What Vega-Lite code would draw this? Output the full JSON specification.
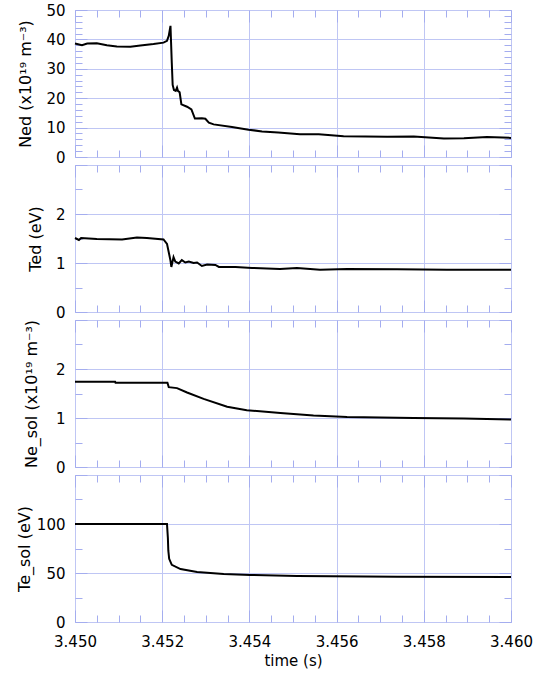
{
  "$schema": "https://vega.github.io/schema/vega-lite/v6.json",
  "background": "white",
  "padding": {"left": 15, "top": 2, "right": 5, "bottom": 5},
  "spacing": 8,
  "bounds": "flush",
  "config": {
    "view": {"stroke": "#a4adef", "strokeWidth": 1},
    "axis": {
      "labelFont": "DejaVu Sans", "labelFontSize": 15, "labelColor": "black",
      "titleFont": "DejaVu Sans", "titleFontSize": 16, "titleFontWeight": "normal", "titleColor": "black",
      "gridColor": "#bfc6f4", "gridWidth": 1, "tickColor": "#a4adef", "tickWidth": 1,
      "domain": false, "labelFlush": false, "labelOverlap": false
    }
  },
  "datasets": {
    "ned": [
      {"t": 3.4500, "v": 38.6}, {"t": 3.45016, "v": 38.0}, {"t": 3.45028, "v": 38.6}, {"t": 3.4505, "v": 38.7},
      {"t": 3.45073, "v": 38.0}, {"t": 3.45096, "v": 37.6}, {"t": 3.45127, "v": 37.5}, {"t": 3.4515, "v": 37.9},
      {"t": 3.4518, "v": 38.4}, {"t": 3.45203, "v": 38.9}, {"t": 3.45211, "v": 39.5}, {"t": 3.45215, "v": 41.2},
      {"t": 3.45219, "v": 44.6}, {"t": 3.45222, "v": 32.0}, {"t": 3.45224, "v": 24.5}, {"t": 3.45227, "v": 22.8},
      {"t": 3.45231, "v": 22.5}, {"t": 3.45234, "v": 23.6}, {"t": 3.45236, "v": 22.5}, {"t": 3.4524, "v": 22.0},
      {"t": 3.45244, "v": 17.9}, {"t": 3.45257, "v": 17.1}, {"t": 3.45267, "v": 16.2}, {"t": 3.45275, "v": 13.1},
      {"t": 3.45291, "v": 13.2}, {"t": 3.45299, "v": 13.0}, {"t": 3.45307, "v": 11.7}, {"t": 3.45318, "v": 11.1},
      {"t": 3.4536, "v": 10.2}, {"t": 3.45398, "v": 9.3}, {"t": 3.45429, "v": 8.7}, {"t": 3.45466, "v": 8.3},
      {"t": 3.45516, "v": 7.7}, {"t": 3.45559, "v": 7.7}, {"t": 3.45616, "v": 7.1}, {"t": 3.45716, "v": 6.9},
      {"t": 3.45777, "v": 7.0}, {"t": 3.45846, "v": 6.3}, {"t": 3.45892, "v": 6.4}, {"t": 3.45945, "v": 6.8},
      {"t": 3.4600, "v": 6.5}
    ],
    "ted": [
      {"t": 3.4500, "v": 1.51}, {"t": 3.45009, "v": 1.47}, {"t": 3.45014, "v": 1.51}, {"t": 3.4505, "v": 1.49},
      {"t": 3.45108, "v": 1.48}, {"t": 3.45142, "v": 1.52}, {"t": 3.45165, "v": 1.51}, {"t": 3.45203, "v": 1.48},
      {"t": 3.45211, "v": 1.39}, {"t": 3.45219, "v": 1.05}, {"t": 3.45221, "v": 0.92}, {"t": 3.45226, "v": 1.12},
      {"t": 3.4523, "v": 1.03}, {"t": 3.45238, "v": 0.99}, {"t": 3.45245, "v": 1.06}, {"t": 3.45253, "v": 1.01},
      {"t": 3.45261, "v": 1.03}, {"t": 3.45272, "v": 1.0}, {"t": 3.4528, "v": 1.01}, {"t": 3.45291, "v": 0.94},
      {"t": 3.45303, "v": 0.97}, {"t": 3.45322, "v": 0.96}, {"t": 3.4533, "v": 0.92}, {"t": 3.45368, "v": 0.92},
      {"t": 3.45406, "v": 0.90}, {"t": 3.4547, "v": 0.88}, {"t": 3.45509, "v": 0.90}, {"t": 3.45562, "v": 0.86},
      {"t": 3.45624, "v": 0.88}, {"t": 3.45739, "v": 0.87}, {"t": 3.45853, "v": 0.86}, {"t": 3.4600, "v": 0.86}
    ],
    "nesol": [
      {"t": 3.4500, "v": 1.74}, {"t": 3.45092, "v": 1.74}, {"t": 3.45093, "v": 1.72}, {"t": 3.45212, "v": 1.72},
      {"t": 3.45215, "v": 1.63}, {"t": 3.45234, "v": 1.61}, {"t": 3.45257, "v": 1.52}, {"t": 3.45295, "v": 1.39},
      {"t": 3.45349, "v": 1.23}, {"t": 3.45394, "v": 1.16}, {"t": 3.45471, "v": 1.10}, {"t": 3.45547, "v": 1.05},
      {"t": 3.45624, "v": 1.02}, {"t": 3.45777, "v": 1.00}, {"t": 3.45892, "v": 0.99}, {"t": 3.4600, "v": 0.97}
    ],
    "tesol": [
      {"t": 3.4500, "v": 100}, {"t": 3.45211, "v": 100}, {"t": 3.45213, "v": 86}, {"t": 3.45214, "v": 73},
      {"t": 3.45216, "v": 64.5}, {"t": 3.45222, "v": 58.3}, {"t": 3.45242, "v": 54}, {"t": 3.4528, "v": 51},
      {"t": 3.45341, "v": 49}, {"t": 3.45402, "v": 48}, {"t": 3.45509, "v": 47}, {"t": 3.45739, "v": 46.3},
      {"t": 3.4600, "v": 45.8}
    ]
  },
  "vconcat": [
    {
      "width": 436, "height": 147,
      "data": {"name": "ned"},
      "layer": [
        {"mark": {"type": "line", "color": "black", "strokeWidth": 2},
         "encoding": {
           "x": {"field": "t", "type": "quantitative", "scale": {"domain": [3.45, 3.46], "nice": false, "zero": false},
                 "axis": {"orient": "bottom", "values": [3.45, 3.452, 3.454, 3.456, 3.458, 3.46], "ticks": false, "grid": true, "labels": false, "title": null}},
           "y": {"field": "v", "type": "quantitative", "scale": {"domain": [0, 50], "nice": false},
                 "axis": {"orient": "left", "values": [0, 10, 20, 30, 40, 50], "ticks": false, "grid": true, "labelPadding": 10, "titlePadding": 12, "title": "Ned (x10¹⁹ m⁻³)"}}
         }},
        {"mark": {"type": "line", "strokeOpacity": 0},
         "encoding": {
           "x": {"field": "t", "type": "quantitative",
                 "axis": {"orient": "bottom", "values": [3.45, 3.4505, 3.451, 3.4515, 3.452, 3.4525, 3.453, 3.4535, 3.454, 3.4545, 3.455, 3.4555, 3.456, 3.4565, 3.457, 3.4575, 3.458, 3.4585, 3.459, 3.4595, 3.46], "labels": false, "grid": false, "title": null,
                          "tickSize": {"condition": {"test": "round(datum.value*2000)%4==0", "value": -12}, "value": -7}}},
           "y": {"field": "v", "type": "quantitative",
                 "axis": {"orient": "left", "values": [0, 2, 4, 6, 8, 10, 12, 14, 16, 18, 20, 22, 24, 26, 28, 30, 32, 34, 36, 38, 40, 42, 44, 46, 48, 50], "labels": false, "grid": false, "title": null,
                          "tickSize": {"condition": {"test": "round(datum.value)%10==0", "value": -12}, "value": -7}}}
         }},
        {"mark": {"type": "line", "strokeOpacity": 0},
         "encoding": {
           "x": {"field": "t", "type": "quantitative",
                 "axis": {"orient": "top", "values": [3.45, 3.4505, 3.451, 3.4515, 3.452, 3.4525, 3.453, 3.4535, 3.454, 3.4545, 3.455, 3.4555, 3.456, 3.4565, 3.457, 3.4575, 3.458, 3.4585, 3.459, 3.4595, 3.46], "labels": false, "grid": false, "title": null,
                          "tickSize": {"condition": {"test": "round(datum.value*2000)%4==0", "value": -12}, "value": -7}}},
           "y": {"field": "v", "type": "quantitative",
                 "axis": {"orient": "right", "values": [0, 2, 4, 6, 8, 10, 12, 14, 16, 18, 20, 22, 24, 26, 28, 30, 32, 34, 36, 38, 40, 42, 44, 46, 48, 50], "labels": false, "grid": false, "title": null,
                          "tickSize": {"condition": {"test": "round(datum.value)%10==0", "value": -12}, "value": -7}}}
         }}
      ],
      "resolve": {"axis": {"x": "independent", "y": "independent"}}
    },
    {
      "width": 436, "height": 147,
      "data": {"name": "ted"},
      "layer": [
        {"mark": {"type": "line", "color": "black", "strokeWidth": 2},
         "encoding": {
           "x": {"field": "t", "type": "quantitative", "scale": {"domain": [3.45, 3.46], "nice": false, "zero": false},
                 "axis": {"orient": "bottom", "values": [3.45, 3.452, 3.454, 3.456, 3.458, 3.46], "ticks": false, "grid": true, "labels": false, "title": null}},
           "y": {"field": "v", "type": "quantitative", "scale": {"domain": [0, 3], "nice": false},
                 "axis": {"orient": "left", "values": [0, 1, 2, 3], "labelExpr": "datum.value < 2.5 ? datum.label : ''", "ticks": false, "grid": true, "labelPadding": 10, "titlePadding": 12, "title": "Ted (eV)"}}
         }},
        {"mark": {"type": "line", "strokeOpacity": 0},
         "encoding": {
           "x": {"field": "t", "type": "quantitative",
                 "axis": {"orient": "bottom", "values": [3.45, 3.4505, 3.451, 3.4515, 3.452, 3.4525, 3.453, 3.4535, 3.454, 3.4545, 3.455, 3.4555, 3.456, 3.4565, 3.457, 3.4575, 3.458, 3.4585, 3.459, 3.4595, 3.46], "labels": false, "grid": false, "title": null,
                          "tickSize": {"condition": {"test": "round(datum.value*2000)%4==0", "value": -12}, "value": -7}}},
           "y": {"field": "v", "type": "quantitative",
                 "axis": {"orient": "left", "values": [0, 0.5, 1, 1.5, 2, 2.5, 3], "labels": false, "grid": false, "title": null,
                          "tickSize": {"condition": {"test": "round(datum.value*2)%2==0", "value": -12}, "value": -7}}}
         }},
        {"mark": {"type": "line", "strokeOpacity": 0},
         "encoding": {
           "x": {"field": "t", "type": "quantitative",
                 "axis": {"orient": "top", "values": [3.45, 3.4505, 3.451, 3.4515, 3.452, 3.4525, 3.453, 3.4535, 3.454, 3.4545, 3.455, 3.4555, 3.456, 3.4565, 3.457, 3.4575, 3.458, 3.4585, 3.459, 3.4595, 3.46], "labels": false, "grid": false, "title": null,
                          "tickSize": {"condition": {"test": "round(datum.value*2000)%4==0", "value": -12}, "value": -7}}},
           "y": {"field": "v", "type": "quantitative",
                 "axis": {"orient": "right", "values": [0, 0.5, 1, 1.5, 2, 2.5, 3], "labels": false, "grid": false, "title": null,
                          "tickSize": {"condition": {"test": "round(datum.value*2)%2==0", "value": -12}, "value": -7}}}
         }}
      ],
      "resolve": {"axis": {"x": "independent", "y": "independent"}}
    },
    {
      "width": 436, "height": 147,
      "data": {"name": "nesol"},
      "layer": [
        {"mark": {"type": "line", "color": "black", "strokeWidth": 2},
         "encoding": {
           "x": {"field": "t", "type": "quantitative", "scale": {"domain": [3.45, 3.46], "nice": false, "zero": false},
                 "axis": {"orient": "bottom", "values": [3.45, 3.452, 3.454, 3.456, 3.458, 3.46], "ticks": false, "grid": true, "labels": false, "title": null}},
           "y": {"field": "v", "type": "quantitative", "scale": {"domain": [0, 3], "nice": false},
                 "axis": {"orient": "left", "values": [0, 1, 2, 3], "labelExpr": "datum.value < 2.5 ? datum.label : ''", "ticks": false, "grid": true, "labelPadding": 10, "titlePadding": 16, "title": "Ne_sol (x10¹⁹ m⁻³)"}}
         }},
        {"mark": {"type": "line", "strokeOpacity": 0},
         "encoding": {
           "x": {"field": "t", "type": "quantitative",
                 "axis": {"orient": "bottom", "values": [3.45, 3.4505, 3.451, 3.4515, 3.452, 3.4525, 3.453, 3.4535, 3.454, 3.4545, 3.455, 3.4555, 3.456, 3.4565, 3.457, 3.4575, 3.458, 3.4585, 3.459, 3.4595, 3.46], "labels": false, "grid": false, "title": null,
                          "tickSize": {"condition": {"test": "round(datum.value*2000)%4==0", "value": -12}, "value": -7}}},
           "y": {"field": "v", "type": "quantitative",
                 "axis": {"orient": "left", "values": [0, 0.5, 1, 1.5, 2, 2.5, 3], "labels": false, "grid": false, "title": null,
                          "tickSize": {"condition": {"test": "round(datum.value*2)%2==0", "value": -12}, "value": -7}}}
         }},
        {"mark": {"type": "line", "strokeOpacity": 0},
         "encoding": {
           "x": {"field": "t", "type": "quantitative",
                 "axis": {"orient": "top", "values": [3.45, 3.4505, 3.451, 3.4515, 3.452, 3.4525, 3.453, 3.4535, 3.454, 3.4545, 3.455, 3.4555, 3.456, 3.4565, 3.457, 3.4575, 3.458, 3.4585, 3.459, 3.4595, 3.46], "labels": false, "grid": false, "title": null,
                          "tickSize": {"condition": {"test": "round(datum.value*2000)%4==0", "value": -12}, "value": -7}}},
           "y": {"field": "v", "type": "quantitative",
                 "axis": {"orient": "right", "values": [0, 0.5, 1, 1.5, 2, 2.5, 3], "labels": false, "grid": false, "title": null,
                          "tickSize": {"condition": {"test": "round(datum.value*2)%2==0", "value": -12}, "value": -7}}}
         }}
      ],
      "resolve": {"axis": {"x": "independent", "y": "independent"}}
    },
    {
      "width": 436, "height": 147,
      "data": {"name": "tesol"},
      "layer": [
        {"mark": {"type": "line", "color": "black", "strokeWidth": 2},
         "encoding": {
           "x": {"field": "t", "type": "quantitative", "scale": {"domain": [3.45, 3.46], "nice": false, "zero": false},
                 "axis": {"orient": "bottom", "values": [3.45, 3.452, 3.454, 3.456, 3.458, 3.46], "format": ".3f", "ticks": false, "grid": true, "labels": true, "labelPadding": 12, "titlePadding": 4, "title": "time (s)", "titleFontSize": 15}},
           "y": {"field": "v", "type": "quantitative", "scale": {"domain": [0, 150], "nice": false},
                 "axis": {"orient": "left", "values": [0, 50, 100, 150], "labelExpr": "datum.value < 120 ? datum.label : ''", "ticks": false, "grid": true, "labelPadding": 10, "titlePadding": 4, "title": "Te_sol (eV)"}}
         }},
        {"mark": {"type": "line", "strokeOpacity": 0},
         "encoding": {
           "x": {"field": "t", "type": "quantitative",
                 "axis": {"orient": "bottom", "values": [3.45, 3.4505, 3.451, 3.4515, 3.452, 3.4525, 3.453, 3.4535, 3.454, 3.4545, 3.455, 3.4555, 3.456, 3.4565, 3.457, 3.4575, 3.458, 3.4585, 3.459, 3.4595, 3.46], "labels": false, "grid": false, "title": null,
                          "tickSize": {"condition": {"test": "round(datum.value*2000)%4==0", "value": -12}, "value": -7}}},
           "y": {"field": "v", "type": "quantitative",
                 "axis": {"orient": "left", "values": [0, 25, 50, 75, 100, 125, 150], "labels": false, "grid": false, "title": null,
                          "tickSize": {"condition": {"test": "round(datum.value)%50==0", "value": -12}, "value": -7}}}
         }},
        {"mark": {"type": "line", "strokeOpacity": 0},
         "encoding": {
           "x": {"field": "t", "type": "quantitative",
                 "axis": {"orient": "top", "values": [3.45, 3.4505, 3.451, 3.4515, 3.452, 3.4525, 3.453, 3.4535, 3.454, 3.4545, 3.455, 3.4555, 3.456, 3.4565, 3.457, 3.4575, 3.458, 3.4585, 3.459, 3.4595, 3.46], "labels": false, "grid": false, "title": null,
                          "tickSize": {"condition": {"test": "round(datum.value*2000)%4==0", "value": -12}, "value": -7}}},
           "y": {"field": "v", "type": "quantitative",
                 "axis": {"orient": "right", "values": [0, 25, 50, 75, 100, 125, 150], "labels": false, "grid": false, "title": null,
                          "tickSize": {"condition": {"test": "round(datum.value)%50==0", "value": -12}, "value": -7}}}
         }}
      ],
      "resolve": {"axis": {"x": "independent", "y": "independent"}}
    }
  ]
}
